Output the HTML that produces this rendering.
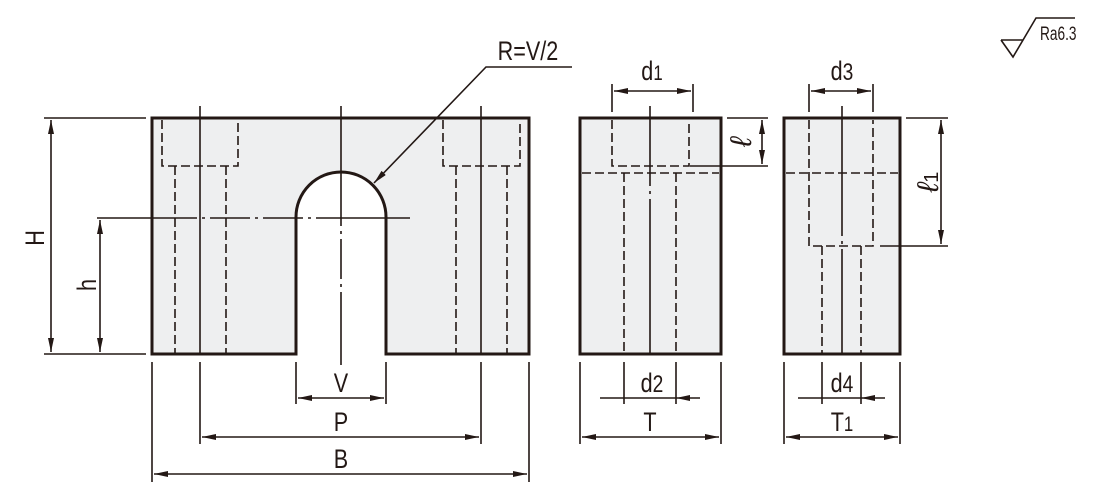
<!DOCTYPE html>
<html><head><meta charset="utf-8"><style>
html,body{margin:0;padding:0;background:#fff;}
svg{display:block;}
text{font-family:"Liberation Sans",sans-serif;fill:#231815;}
</style></head><body>
<svg width="1097" height="496" viewBox="0 0 1097 496" xmlns="http://www.w3.org/2000/svg">
<defs>
<marker id="a" viewBox="0 0 14 6" refX="14" refY="3" markerWidth="14" markerHeight="6" markerUnits="userSpaceOnUse" orient="auto-start-reverse"><path d="M0,0 L14,3 L0,6 Z" fill="#231815"/></marker>
</defs>
<g stroke="#231815" fill="none">
<path d="M152,118 H529 V354 H386 V217 A45,45 0 0 0 296,217 V354 H152 Z" fill="#eeeff0" stroke-width="3"/>
<g stroke-width="1.6" stroke-dasharray="9,4">
<path d="M162,120 V166 H238 V120"/>
<path d="M175,166 V354 M226,166 V354"/>
<path d="M443,120 V166 H520 V120"/>
<path d="M456,166 V354 M507,166 V354"/>
</g>
<g stroke-width="1.6">
<path d="M200,106 V354 M481,106 V354"/>
<path d="M341,106 V365" stroke-dasharray="120,5,3,5,40,5,3,5,100"/>
<path d="M97,218 H410" stroke-dasharray="100,5,3,5,40,5,3,5,40,5,3,5,100"/>
</g>
<path d="M572,67 H486 L374,183" stroke-width="1.6" marker-end="url(#a)"/>
<rect x="580" y="118" width="141" height="236" fill="#eeeff0" stroke-width="3"/>
<g stroke-width="1.6" stroke-dasharray="9,4">
<path d="M612,120 V166 H689 V120"/>
<path d="M582,173 H719"/>
<path d="M624,173 V354 M676,173 V354"/>
</g>
<path d="M650,106 V354" stroke-width="1.6" stroke-dasharray="80,5,3,5,200"/>
<rect x="784" y="118" width="116" height="236" fill="#eeeff0" stroke-width="3"/>
<g stroke-width="1.6" stroke-dasharray="9,4">
<path d="M809,120 V246 H873 V120"/>
<path d="M786,173 H898"/>
<path d="M822,246 V354 M861,246 V354"/>
</g>
<path d="M842,106 V354" stroke-width="1.6" stroke-dasharray="130,5,3,5,200"/>
<g stroke-width="1.6">
<path d="M44,118 H146 M44,354 H146"/>
<path d="M152,362 V482 M529,362 V482 M200,362 V444 M481,362 V444 M296,362 V404 M386,362 V404"/>
<path d="M580,362 V444 M721,362 V444 M624,362 V404 M676,362 V404"/>
<path d="M784,362 V444 M900,362 V444 M822,362 V404 M861,362 V404"/>
<path d="M612,84 V112 M693,84 V112 M809,84 V112 M873,84 V112"/>
<path d="M727,118 H768 M690,166 H768 M906,118 H948 M880,246 H948"/>
</g>
<g stroke-width="1.6" marker-start="url(#a)" marker-end="url(#a)">
<path d="M51,120 V352"/>
<path d="M100,220 V352"/>
<path d="M154,474 H527"/>
<path d="M202,437 H479"/>
<path d="M298,398 H384"/>
<path d="M582,437 H719"/>
<path d="M786,437 H898"/>
<path d="M614,91 H691"/>
<path d="M811,91 H871"/>
<path d="M762,120 V164"/>
<path d="M941,120 V244"/>
</g>
<g stroke-width="1.6" marker-end="url(#a)">
<path d="M600,398 H624 M700,398 H676"/>
<path d="M798,398 H822 M885,398 H861"/>
</g>
<path d="M624,398 H676 M822,398 H861" stroke-width="1.6"/>
<path d="M1001,40 H1023 M1001,40 L1013,57 L1036,18 H1075" stroke-width="1.6"/>
</g>
<g font-size="27">
<text x="341" y="392" text-anchor="middle" transform="translate(341,0) scale(0.8,1) translate(-341,0)">V</text>
<text x="341" y="431" text-anchor="middle" transform="translate(341,0) scale(0.8,1) translate(-341,0)">P</text>
<text x="341" y="468" text-anchor="middle" transform="translate(341,0) scale(0.8,1) translate(-341,0)">B</text>
<text x="650" y="431" text-anchor="middle" transform="translate(650,0) scale(0.8,1) translate(-650,0)">T</text>
<text x="842" y="431" text-anchor="middle" transform="translate(842,0) scale(0.8,1) translate(-842,0)">T<tspan font-size="21">1</tspan></text>
<text x="652" y="392" text-anchor="middle" transform="translate(652,0) scale(0.8,1) translate(-652,0)">d<tspan font-size="24">2</tspan></text>
<text x="842" y="392" text-anchor="middle" transform="translate(842,0) scale(0.8,1) translate(-842,0)">d<tspan font-size="24">4</tspan></text>
<text x="652" y="80" text-anchor="middle" transform="translate(652,0) scale(0.8,1) translate(-652,0)">d<tspan font-size="21">1</tspan></text>
<text x="842" y="80" text-anchor="middle" transform="translate(842,0) scale(0.8,1) translate(-842,0)">d<tspan font-size="24">3</tspan></text>
<text x="528" y="60" text-anchor="middle" transform="translate(528,0) scale(0.8,1) translate(-528,0)">R=V/2</text>
<text transform="translate(44,238) rotate(-90) scale(0.8,1)" text-anchor="middle">H</text>
<text transform="translate(96,285) rotate(-90) scale(0.8,1)" text-anchor="middle">h</text>
<text transform="translate(751,142) rotate(-90)" text-anchor="middle" font-family="Liberation Serif" font-style="italic" font-size="30">ℓ</text>
<text transform="translate(938,182) rotate(-90)" text-anchor="middle" font-family="Liberation Serif" font-style="italic" font-size="30">ℓ<tspan font-family="Liberation Sans" font-style="normal" font-size="20">1</tspan></text>
</g>
<text x="1040" y="40" font-size="19" transform="translate(1040,0) scale(0.72,1) translate(-1040,0)">Ra6.3</text>
</svg>
</body></html>
